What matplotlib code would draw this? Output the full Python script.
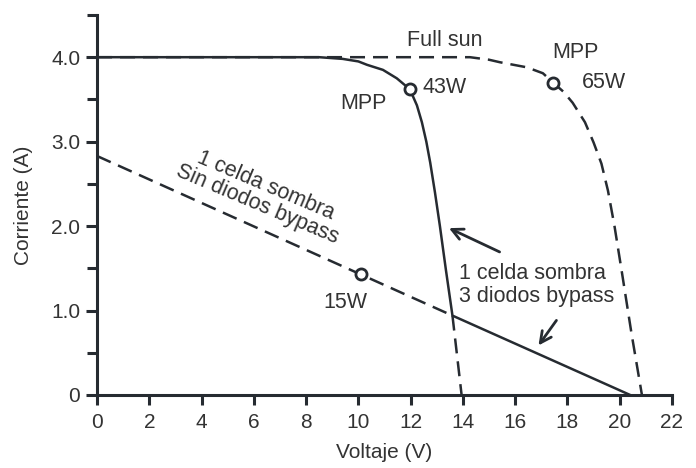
import matplotlib.pyplot as plt

plt.rcParams['font.family'] = ['Liberation Sans', 'DejaVu Sans']

# Curva a pleno sol (discontinua)
full_v = [0, 13.5, 14.27, 15.0, 15.42, 16.45, 17.06, 17.45, 17.85, 18.2, 18.67,
          19.0, 19.3, 19.55, 19.8, 20.1, 20.45, 20.85]
full_i = [4.0, 4.0, 4.0, 3.97, 3.94, 3.88, 3.81, 3.70, 3.59, 3.46, 3.23,
          2.99, 2.74, 2.42, 2.00, 1.42, 0.73, 0.0]

# 1 celda sombra, 3 diodos bypass (continua)
byp_v = [0, 8.5, 9.4, 10.0, 10.33, 10.94, 11.47, 11.97, 12.24, 12.43, 12.6,
         12.75, 12.93, 13.12, 13.35, 13.6, 20.4]
byp_i = [4.0, 4.0, 3.98, 3.95, 3.91, 3.85, 3.75, 3.62, 3.43, 3.23, 3.00,
         2.75, 2.40, 2.00, 1.48, 0.94, 0.0]

# continuación discontinua hasta Voc
tail_v = [13.6, 13.95]
tail_i = [0.94, 0.0]

# 1 celda sombra sin diodos bypass (discontinua)
nob_v = [0, 13.6]
nob_i = [2.83, 0.94]

# puntos de máxima potencia
mpp_v = [11.97, 17.45, 10.1]
mpp_i = [3.62, 3.70, 1.43]

x_ticks = list(range(0, 23, 2))
y_ticks = [0, 1, 2, 3, 4]
y_labels = ['0', '1.0', '2.0', '3.0', '4.0']

col = '#262b31'
tcol = '#333333'
dash = (6, 3.2)
lw = 1.8

fig = plt.figure(figsize=(6.96, 4.68), dpi=100)
ax = fig.add_axes([0.1394, 0.156, 0.8261, 0.812])

ax.plot(full_v, full_i, color=col, lw=lw, dashes=dash)
ax.plot(nob_v, nob_i, color=col, lw=lw, dashes=dash)
ax.plot(tail_v, tail_i, color=col, lw=lw, dashes=dash)
ax.plot(byp_v, byp_i, color=col, lw=lw)
ax.plot(mpp_v, mpp_i, 'o', ms=8, mfc='white', mec=col, mew=2)

ax.set_xlim(0, 22)
ax.set_ylim(0, 4.5)
ax.set_xticks(x_ticks)
ax.set_yticks(y_ticks)
ax.set_yticklabels(y_labels)
ax.set_yticks([0.5, 1.5, 2.5, 3.5, 4.5], minor=True)

for s in ['top', 'right']:
    ax.spines[s].set_visible(False)
for s in ['left', 'bottom']:
    ax.spines[s].set_linewidth(2.2)
    ax.spines[s].set_color(col)
ax.tick_params(which='both', width=2.2, color=col, labelsize=15, labelcolor=tcol)
ax.tick_params(axis='y', which='major', length=8, pad=4)
ax.tick_params(axis='y', which='minor', length=7)
ax.tick_params(axis='x', length=7, pad=6)

ax.set_xlabel('Voltaje (V)', fontsize=15, color=tcol, labelpad=8)
ax.set_ylabel('Corriente (A)', fontsize=15, color=tcol, labelpad=13)

fs = 15.5
ax.text(13.3, 4.2, 'Full sun', fontsize=fs, color=tcol, ha='center', va='center')
ax.text(18.3, 4.05, 'MPP', fontsize=fs, color=tcol, ha='center', va='center')
ax.text(19.4, 3.70, '65W', fontsize=fs, color=tcol, ha='center', va='center')
ax.text(13.3, 3.64, '43W', fontsize=fs, color=tcol, ha='center', va='center')
ax.text(10.2, 3.45, 'MPP', fontsize=fs, color=tcol, ha='center', va='center')
ax.text(9.5, 1.10, '15W', fontsize=fs, color=tcol, ha='center', va='center')
ax.text(13.85, 1.30, '1 celda sombra\n3 diodos bypass', fontsize=fs, color=tcol,
        ha='left', va='center', linespacing=1.1)
ax.text(6.3, 2.37, '1 celda sombra\nSin diodos bypass', fontsize=fs, color=tcol,
        ha='center', va='center', rotation=-23, rotation_mode='anchor',
        linespacing=0.95)

ax.annotate('', xy=(13.37, 1.99), xytext=(15.5, 1.68),
            arrowprops=dict(arrowstyle='->', color=col, lw=2, mutation_scale=20))
ax.annotate('', xy=(16.83, 0.56), xytext=(17.64, 0.91),
            arrowprops=dict(arrowstyle='->', color=col, lw=2, mutation_scale=20))

plt.savefig('out.png', dpi=100, facecolor='white')
